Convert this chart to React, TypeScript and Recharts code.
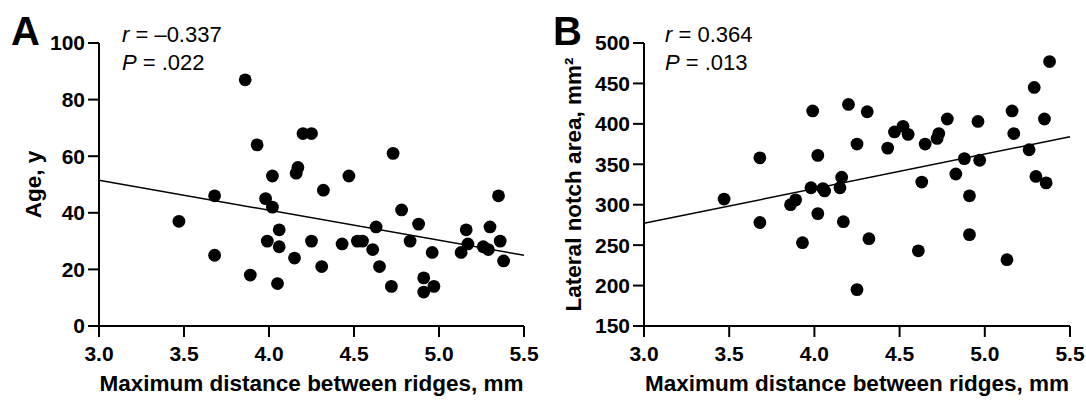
import React from 'react';
import { ScatterChart, Scatter, XAxis, YAxis, ReferenceLine } from 'recharts';

// Panel A: age vs max ridge distance
const distA = [3.47, 3.68, 3.68, 3.86, 3.89, 3.93, 3.98, 3.99, 4.02, 4.02, 4.05, 4.06, 4.06, 4.15, 4.16, 4.17, 4.20, 4.25, 4.25, 4.31, 4.32, 4.43, 4.47, 4.52, 4.55, 4.61, 4.63, 4.65, 4.72, 4.73, 4.78, 4.83, 4.88, 4.91, 4.91, 4.96, 4.97, 5.13, 5.16, 5.17, 5.26, 5.29, 5.30, 5.35, 5.36, 5.38];
const ageA = [37, 46, 25, 87, 18, 64, 45, 30, 53, 42, 15, 34, 28, 24, 54, 56, 68, 68, 30, 21, 48, 29, 53, 30, 30, 27, 35, 21, 14, 61, 41, 30, 36, 17, 12, 26, 14, 26, 34, 29, 28, 27, 35, 46, 30, 23];

// Panel B: lateral notch area vs max ridge distance
const distB = [3.47, 3.68, 3.68, 3.86, 3.89, 3.93, 3.98, 3.99, 4.02, 4.02, 4.05, 4.06, 4.15, 4.16, 4.17, 4.20, 4.25, 4.25, 4.31, 4.32, 4.43, 4.47, 4.52, 4.55, 4.61, 4.63, 4.65, 4.72, 4.73, 4.78, 4.83, 4.88, 4.91, 4.91, 4.96, 4.97, 5.13, 5.16, 5.17, 5.26, 5.29, 5.30, 5.35, 5.36, 5.38];
const areaB = [307, 358, 278, 300, 306, 253, 321, 416, 361, 289, 320, 317, 321, 334, 279, 424, 375, 195, 415, 258, 370, 390, 397, 387, 243, 328, 375, 382, 388, 406, 338, 357, 311, 263, 403, 355, 232, 416, 388, 368, 445, 335, 406, 327, 477];

// fitted lines
const fitA = [{ x: 3.0, y: 51.5 }, { x: 5.5, y: 25 }];
const fitB = [{ x: 3.0, y: 277 }, { x: 5.5, y: 384 }];

const xTicks = [3.0, 3.5, 4.0, 4.5, 5.0, 5.5];
const yTicksA = [0, 20, 40, 60, 80, 100];
const yTicksB = [150, 200, 250, 300, 350, 400, 450, 500];

const dataA = distA.map((x, i) => ({ x, y: ageA[i] }));
const dataB = distB.map((x, i) => ({ x, y: areaB[i] }));

const FONT = 'Arial, "Liberation Sans", Helvetica, sans-serif';
const tickStyle = { fill: '#000', fontSize: 21, fontWeight: 700, fontFamily: FONT };
const titleStyle = { fill: '#000', fontSize: 22.5, fontWeight: 700, fontFamily: FONT };
const axisStroke = { stroke: '#000', strokeWidth: 2 };

const Dot = (p: any) => <circle cx={p.cx} cy={p.cy} r={6.4} fill="#000" />;

interface PanelProps {
  data: Array<{ x: number; y: number }>;
  fit: Array<{ x: number; y: number }>;
  yDomain: [number, number];
  yTicks: number[];
  yLabel: string;
  yAxisWidth: number;
  yLabelX: number;
  rightMargin: number;
}

const Panel: React.FC<PanelProps> = ({ data, fit, yDomain, yTicks, yLabel, yAxisWidth, yLabelX, rightMargin }) => (
  <ScatterChart width={543} height={400} margin={{ top: 43, right: rightMargin, left: 0, bottom: 0 }}>
    <XAxis
      type="number"
      dataKey="x"
      domain={[3, 5.5]}
      ticks={xTicks}
      tickFormatter={(v: number) => v.toFixed(1)}
      height={74}
      tickSize={11}
      tickMargin={9}
      tick={tickStyle}
      axisLine={axisStroke}
      tickLine={axisStroke}
      allowDataOverflow
      label={{
        value: 'Maximum distance between ridges, mm',
        position: 'insideBottom',
        offset: 9,
        style: titleStyle,
      }}
    />
    <YAxis
      type="number"
      dataKey="y"
      domain={yDomain}
      ticks={yTicks}
      width={yAxisWidth}
      tickSize={11}
      tickMargin={3}
      tick={tickStyle}
      axisLine={axisStroke}
      tickLine={axisStroke}
      allowDataOverflow
      label={{
        value: yLabel,
        angle: -90,
        position: 'insideLeft',
        offset: yLabelX,
        style: { ...titleStyle, textAnchor: 'middle' },
      }}
    />
    <ReferenceLine segment={fit} stroke="#000" strokeWidth={1.5} ifOverflow="visible" />
    <Scatter data={data} fill="#000" shape={Dot} isAnimationActive={false} />
  </ScatterChart>
);

export default function App() {
  return (
    <div style={{ position: 'relative', width: 1086, height: 400, background: '#fff' }}>
      <style>{'body{margin:0}'}</style>
      <div style={{ display: 'flex' }}>
        <Panel data={dataA} fit={fitA} yDomain={[0, 100]} yTicks={yTicksA} yLabel="Age, y"
          yAxisWidth={99} yLabelX={33} rightMargin={19} />
        <Panel data={dataB} fit={fitB} yDomain={[150, 500]} yTicks={yTicksB} yLabel="Lateral notch area, mm²"
          yAxisWidth={101} yLabelX={30} rightMargin={16} />
      </div>
      <svg width={1086} height={400} style={{ position: 'absolute', left: 0, top: 0, pointerEvents: 'none' }}
        fontFamily={FONT}>
        <text x={11} y={45} fontSize={40} fontWeight={700} fill="#000">A</text>
        <text x={122} y={42} fontSize={22} fill="#000"><tspan fontStyle="italic">r</tspan> = –0.337</text>
        <text x={122} y={70} fontSize={22} fill="#000"><tspan fontStyle="italic">P</tspan> = .022</text>
        <text x={553} y={45} fontSize={40} fontWeight={700} fill="#000">B</text>
        <text x={665} y={42} fontSize={22} fill="#000"><tspan fontStyle="italic">r</tspan> = 0.364</text>
        <text x={665} y={70} fontSize={22} fill="#000"><tspan fontStyle="italic">P</tspan> = .013</text>
      </svg>
    </div>
  );
}
